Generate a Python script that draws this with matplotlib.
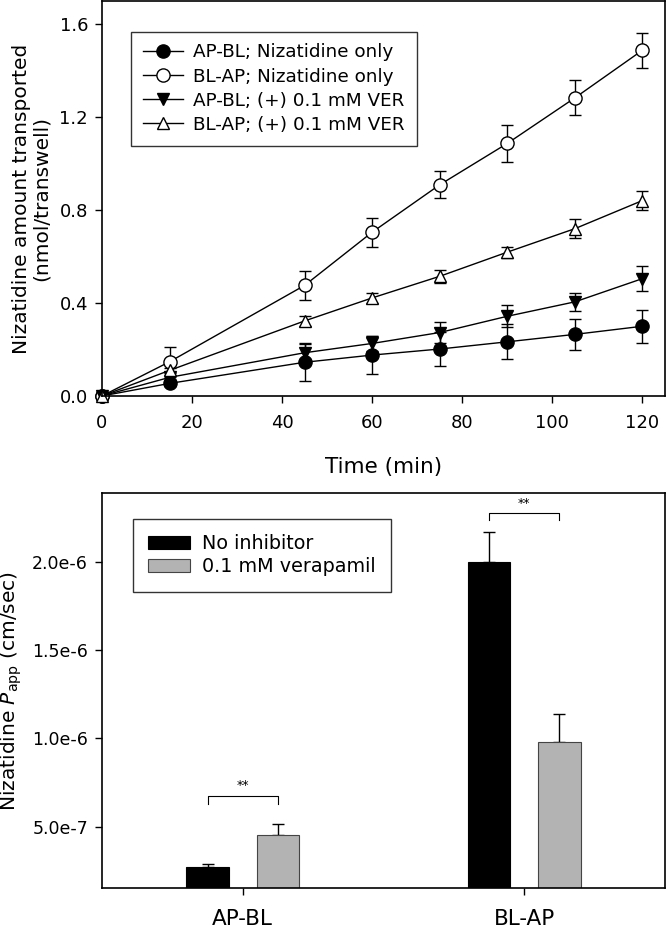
import numpy as np
import matplotlib
matplotlib.use("Agg")
import matplotlib.pyplot as plt
from matplotlib.lines import Line2D

# === Top panel: amount transported vs time ===
time_min = [0, 15, 45, 60, 75, 90, 105, 120]

apbl_only = [0, 0.054, 0.145, 0.176, 0.202, 0.233, 0.265, 0.300]
apbl_only_err = [0, 0.010, 0.080, 0.083, 0.072, 0.076, 0.066, 0.072]

blap_only = [0, 0.147, 0.476, 0.705, 0.909, 1.087, 1.283, 1.488]
blap_only_err = [0, 0.065, 0.063, 0.062, 0.057, 0.080, 0.076, 0.076]

apbl_ver = [0, 0.080, 0.186, 0.226, 0.273, 0.343, 0.405, 0.505]
apbl_ver_err = [0, 0.010, 0.043, 0.032, 0.045, 0.047, 0.040, 0.054]

blap_ver = [0, 0.110, 0.323, 0.422, 0.515, 0.619, 0.720, 0.841]
blap_ver_err = [0, 0.010, 0.020, 0.020, 0.029, 0.024, 0.040, 0.040]

series_labels = ["AP-BL; Nizatidine only", "BL-AP; Nizatidine only",
                 "AP-BL; (+) 0.1 mM VER", "BL-AP; (+) 0.1 mM VER"]

# === Bottom panel: Papp bars ===
directions = ["AP-BL", "BL-AP"]
papp_none = [2.7e-7, 2.0e-6]
papp_none_err = [0.2e-7, 0.17e-6]
papp_ver = [4.5e-7, 0.98e-6]
papp_ver_err = [0.62e-7, 0.16e-6]
bar_labels = ["No inhibitor", "0.1 mM verapamil"]

plt.rcParams["font.family"] = "DejaVu Sans"
plt.rcParams["axes.linewidth"] = 1.2

fig = plt.figure(figsize=(6.67, 9.31), dpi=100)
ax1 = fig.add_axes([0.1529, 0.5747, 0.8441, 0.4243])
ax2 = fig.add_axes([0.1529, 0.0459, 0.8441, 0.4242])

styles = [
    (apbl_only, apbl_only_err, "o", "black"),
    (blap_only, blap_only_err, "o", "white"),
    (apbl_ver, apbl_ver_err, "v", "black"),
    (blap_ver, blap_ver_err, "^", "white"),
]
handles = []
for (vals, errs, mk, fc), lab in zip(styles, series_labels):
    ms = 9.5 if mk == "o" else 9
    ax1.errorbar(time_min, vals, yerr=errs, color="black", lw=1.0,
                 marker=mk, markersize=ms,
                 markerfacecolor=fc, markeredgecolor="black", markeredgewidth=1.0,
                 capsize=4.5, capthick=1.0, elinewidth=1.0, clip_on=False)
    # legend shows line + marker only (no error bar glyph)
    handles.append(Line2D([], [], color="black", lw=1.0, marker=mk, markersize=ms,
                          markerfacecolor=fc, markeredgecolor="black", label=lab))

ax1.set_xlim(0, 125)
ax1.set_ylim(0, 1.7)
ax1.set_xticks([0, 20, 40, 60, 80, 100, 120])
ax1.set_yticks([0.0, 0.4, 0.8, 1.2, 1.6])
ax1.set_yticklabels(["0.0", "0.4", "0.8", "1.2", "1.6"])
ax1.tick_params(axis="y", direction="out", length=5, width=1.0, labelsize=13, pad=5)
ax1.tick_params(axis="x", direction="out", length=5, width=1.0, labelsize=13, pad=8)
ax1.set_xlabel("Time (min)", fontsize=15.5, labelpad=18)
ax1.set_ylabel("Nizatidine amount transported\n(nmol/transwell)", fontsize=14.5,
               labelpad=6, linespacing=1.1)
leg1 = ax1.legend(handles=handles, loc="upper left", bbox_to_anchor=(0.051, 0.9225),
                  borderaxespad=0, fontsize=13.2, frameon=True, fancybox=False,
                  edgecolor="black", handlelength=2.2, labelspacing=0.33,
                  borderpad=0.65, handletextpad=0.55)
leg1.get_frame().set_linewidth(1.0)

# bars
x = np.arange(len(directions))
w = 0.15
off = 0.125
ax2.bar(x - off, papp_none, w, color="black", edgecolor="black", lw=0.8,
        label=bar_labels[0], zorder=2)
ax2.bar(x + off, papp_ver, w, color="#b3b3b3", edgecolor="#444444", lw=0.8,
        label=bar_labels[1], zorder=2)
ax2.errorbar(x - off, papp_none, yerr=[np.zeros(2), papp_none_err], fmt="none",
             ecolor="black", elinewidth=1.0, capsize=4.5, capthick=1.0, zorder=1)
ax2.errorbar(x + off, papp_ver, yerr=[np.zeros(2), papp_ver_err], fmt="none",
             ecolor="black", elinewidth=1.0, capsize=4.5, capthick=1.0, zorder=1)

# significance brackets
brackets = [(0, 6.76e-7, 6.27e-7), (1, 2.278e-6, 2.24e-6)]
for i, ytop, ybot in brackets:
    ax2.plot([i - off, i - off, i + off, i + off], [ybot, ytop, ytop, ybot],
             color="black", lw=0.8)
    ax2.text(i, ytop + 0.2e-7, "**", ha="center", va="bottom", fontsize=9)

ax2.set_xlim(-0.5, 1.5)
ax2.set_ylim(1.5e-7, 2.39e-6)
ax2.set_xticks(x)
ax2.set_xticklabels(directions)
ax2.set_yticks([5e-7, 1e-6, 1.5e-6, 2e-6])
ax2.set_yticklabels(["5.0e-7", "1.0e-6", "1.5e-6", "2.0e-6"])
ax2.tick_params(axis="y", direction="out", length=5, width=1.0, labelsize=12.5, pad=5)
ax2.tick_params(axis="x", direction="out", length=5, width=1.0, labelsize=15.5, pad=10)
ax2.set_ylabel(r"Nizatidine $\mathit{P}_{\mathrm{app}}$ (cm/sec)", fontsize=14.5, labelpad=6)
leg2 = ax2.legend(loc="upper left", bbox_to_anchor=(0.0544, 0.935), borderaxespad=0,
                  fontsize=13.8, frameon=True, fancybox=False, edgecolor="black",
                  handlelength=2.2, handleheight=0.65, labelspacing=0.2,
                  borderpad=0.8, handletextpad=0.6)
leg2.get_frame().set_linewidth(1.0)

fig.savefig("out.png", dpi=100)
